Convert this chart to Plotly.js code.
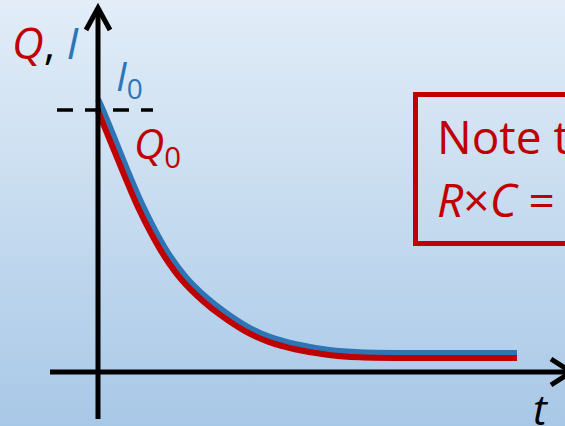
<!DOCTYPE html>
<html>
<head>
<meta charset="utf-8">
<script src="https://cdn.plot.ly/plotly-3.0.1.min.js"></script>
<style>
  html, body { margin: 0; padding: 0; }
  body { width: 565px; height: 426px; overflow: hidden;
         background: linear-gradient(to bottom, #e2edf8 0%, #c9ddf0 45%, #a8c8e7 100%); }
  #chart { width: 565px; height: 426px; }
</style>
</head>
<body>
<div id="chart"></div>
<script>
// Charge Q(t) (red) and current I(t) (blue) (relative units, Q0 = 1)
const tQ = [0, 0.333, 0.643, 0.952, 1.286, 1.595, 2.0, 2.476, 2.952, 3.5, 4.048, 4.69, 5.5, 6.238, 7.905, 9.976];
const qVals = [0.996, 0.865, 0.744, 0.629, 0.523, 0.438, 0.350, 0.274, 0.213, 0.156, 0.116, 0.087, 0.065, 0.056, 0.053, 0.053];
const tI = [0, 0.110, 0.443, 0.752, 1.060, 1.390, 1.695, 2.090, 2.557, 3.021, 3.557, 4.088, 4.717, 5.514, 6.243, 7.905, 9.976];
const iVals = [1.042, 1.003, 0.873, 0.751, 0.637, 0.532, 0.448, 0.363, 0.288, 0.229, 0.173, 0.134, 0.106, 0.084, 0.0756, 0.0725, 0.0725];
const refLevel = 1.0;   // Q0 dashed level

const W = 565, H = 426;
const px = x => x / W;
const py = y => 1 - y / H;
const RED = '#c00000', BLUE = '#2e75b6';
const FONT = 'Open Sans';

const traces = [
  { x: tI, y: iVals, mode: 'lines', line: { color: BLUE, width: 6, shape: 'spline', smoothing: 1 }, hoverinfo: 'skip' },
  { x: tQ, y: qVals, mode: 'lines', line: { color: RED, width: 6, shape: 'spline', smoothing: 1 }, hoverinfo: 'skip' }
];

const shapes = [
  // dashed Q0 / I0 level
  { type: 'line', xref: 'paper', yref: 'y', x0: px(57), x1: px(153), y0: refLevel, y1: refLevel,
    line: { color: '#000', width: 3.5, dash: '16px,12px' } },
  // y axis
  { type: 'line', xref: 'x', yref: 'paper', x0: 0, x1: 0, y0: py(419), y1: py(8),
    line: { color: '#000', width: 5 } },
  { type: 'path', xref: 'paper', yref: 'paper',
    path: `M ${px(86)},${py(30)} L ${px(98)},${py(8)} L ${px(110)},${py(30)}`,
    line: { color: '#000', width: 5 } },
  // x axis
  { type: 'line', xref: 'paper', yref: 'y', x0: px(50), x1: px(571), y0: 0, y1: 0,
    line: { color: '#000', width: 5 } },
  { type: 'path', xref: 'paper', yref: 'paper',
    path: `M ${px(551)},${py(359)} L ${px(571)},${py(372)} L ${px(551)},${py(385)}`,
    line: { color: '#000', width: 5 } },
  // note box
  { type: 'rect', xref: 'paper', yref: 'paper', x0: px(415.5), x1: px(640), y0: py(94.5), y1: py(243.5),
    line: { color: RED, width: 5 }, fillcolor: 'rgba(0,0,0,0)' }
];

function ann(text, x, y, size, color) {
  return { text: text, xref: 'paper', yref: 'paper', x: px(x), y: py(y),
    xanchor: 'left', yanchor: 'middle', showarrow: false,
    font: { family: FONT, size: size, color: color } };
}

const annotations = [
  ann('<i><span style="color:' + RED + '">Q</span></i>, <i><span style="color:' + BLUE + '">I</span></i>', 10, 42, 44, '#000'),
  ann('<i>I</i><sub>0</sub>', 114, 77, 40, BLUE),
  ann('<i>Q</i><sub>0</sub>', 132, 145, 42, RED),
  ann('Note t', 435, 136, 46, RED),
  ann('<i>R</i>×<i>C</i> =', 435, 199, 46, RED),
  ann('<i>t</i>', 531, 408, 42, '#000')
];

const layout = {
  width: W, height: H, autosize: false,
  margin: { l: 0, r: 0, t: 0, b: 0, pad: 0 },
  paper_bgcolor: 'rgba(0,0,0,0)', plot_bgcolor: 'rgba(0,0,0,0)',
  showlegend: false,
  xaxis: { range: [-98 / 42, 467 / 42], visible: false, showgrid: false, zeroline: false, fixedrange: true },
  yaxis: { range: [-54 / 262, 372 / 262], visible: false, showgrid: false, zeroline: false, fixedrange: true },
  shapes: shapes,
  annotations: annotations
};

Plotly.newPlot('chart', traces, layout, { displayModeBar: false, staticPlot: true });
</script>
</body>
</html>
